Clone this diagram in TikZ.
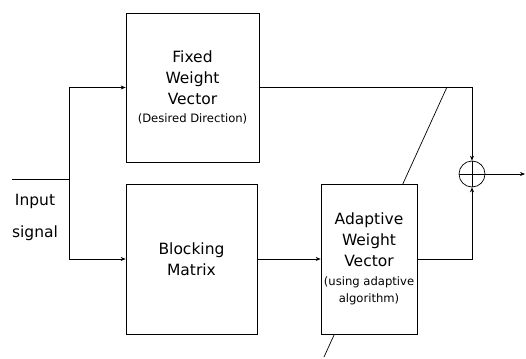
\documentclass[tikz,border=0pt]{standalone}
\usepackage{fontspec}
\setmainfont{DejaVu Sans}
\usetikzlibrary{arrows.meta}
\newcommand{\smtxt}{\fontsize{11.6}{16}\selectfont}
\begin{document}
\begin{tikzpicture}[x=1pt,y=-1pt,line width=0.7pt,
  blk/.style={draw,fill=white,align=center,inner sep=0pt,font=\fontsize{15.5}{21}\selectfont},
  lbl/.style={inner sep=0pt,font=\fontsize{15.5}{21}\selectfont},
  arr/.style={-{Stealth[length=5pt,width=4pt]}}]
\useasboundingbox (0,0) rectangle (526,358);
% adaptation line (behind the adaptive box)
\coordinate (d1) at (447,87);
\coordinate (d2) at (324,357);
\draw (d1) -- (d2);
% blocks
\node[blk,minimum width=133,minimum height=149] (fixed) at (192.5,87.5)
  {Fixed\\Weight\\Vector\\[-3pt]{\smtxt (Desired Direction)}};
\node[blk,minimum width=131,minimum height=150] (block) at (191.5,259)
  {Blocking\\Matrix};
\node[blk,minimum width=96,minimum height=150] (adapt) at (369,259)
  {Adaptive\\Weight\\Vector\\[-2pt]{\smtxt (using adaptive}\\[-4pt]{\smtxt algorithm)}};
\node[draw,circle,minimum size=26,inner sep=0pt] (sum) at (472,174) {};
\draw (sum.north) -- (sum.south);
\draw (sum.west) -- (sum.east);
% input
\node[lbl] (inp) at (35,201) {Input};
\node[lbl] (sig) at (35,233) {signal};
\coordinate (in) at (12,179);
\coordinate (j) at (69,179);
\coordinate (out) at (525,174);
\draw (in) -- (j);
\draw[arr] (j) |- (fixed.west);
\draw[arr] (j) |- (block.west);
% connectors
\draw[arr] (fixed.east) -| (sum.north);
\draw[arr] (block.east) -- (adapt.west);
\draw[arr] (adapt.east) -| (sum.south);
\draw[arr] (sum.east) -- (out);
\end{tikzpicture}
\end{document}
